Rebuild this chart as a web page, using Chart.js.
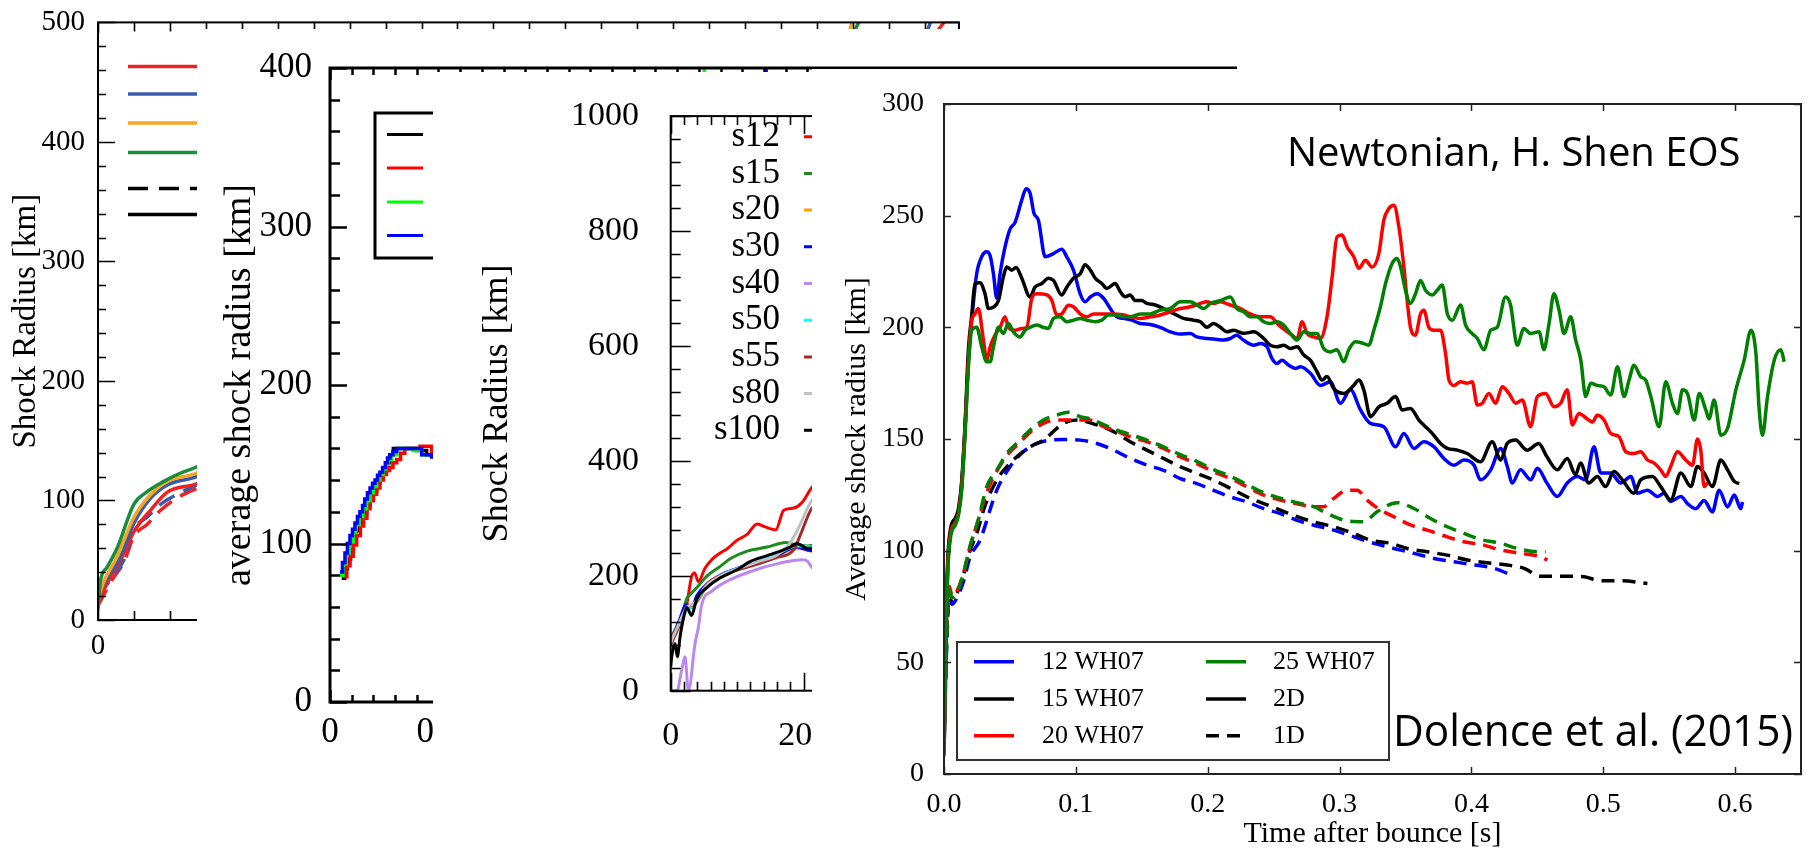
<!DOCTYPE html>
<html lang="en">
<head>
<meta charset="UTF-8" />
<title>Average shock radius - collage</title>
<script src="https://cdn.jsdelivr.net/npm/chart.js"></script>
<style>
  html, body { margin: 0; padding: 0; background: #fff; }
  #stage { position: relative; width: 1812px; height: 849px; overflow: hidden; background: #fff; }
  #stage canvas { position: absolute; }
</style>
</head>
<body>
<div id="stage">
  <canvas id="c1" width="961" height="660" style="left:0px;top:0px;z-index:1"></canvas>
  <canvas id="c2" width="1040" height="820" style="left:197px;top:29px;z-index:2"></canvas>
  <canvas id="c3" width="612" height="777" style="left:433px;top:72px;z-index:3"></canvas>
  <canvas id="c4" width="1000" height="780" style="left:812px;top:69px;z-index:4"></canvas>
</div>

<script>
// ---------- main panel: Dolence et al. (2015), time [s] vs radius [km] ----------
const r12_2d = [[0,10],[0.001,40],[0.002,75],[0.003,95],[0.005,108],[0.009,113],[0.011,117],[0.0134,129],[0.016,155],[0.0185,185],[0.021,203],[0.0248,224],[0.0286,231.6],[0.0324,233.8],[0.035,232],[0.0375,224],[0.040,213],[0.0425,224],[0.0463,236],[0.0501,244],[0.0539,247],[0.059,257],[0.0623,262],[0.0653,260],[0.0683,251],[0.0716,248],[0.0767,231.6],[0.083,233],[0.0893,235],[0.0931,231.6],[0.0982,225.6],[0.1033,215],[0.107,211.4],[0.111,213.6],[0.116,215],[0.121,213],[0.1261,208.4],[0.131,204.7],[0.136,204],[0.1425,203.2],[0.1488,201.7],[0.1564,201.3],[0.164,200],[0.1716,198],[0.179,197],[0.1868,197.2],[0.1918,195.7],[0.1995,195],[0.207,194.6],[0.212,194.3],[0.2172,195],[0.222,196.5],[0.227,194.3],[0.235,192],[0.24,192.8],[0.245,191.3],[0.2488,186],[0.2526,183.8],[0.2564,185.3],[0.2615,183],[0.2666,181.6],[0.2703,182.3],[0.2779,179.4],[0.2855,174],[0.293,175.6],[0.3007,166],[0.3083,172],[0.3159,163],[0.3235,157],[0.3336,155.5],[0.3425,146.5],[0.3488,152.5],[0.3564,145.8],[0.364,148.8],[0.3717,146.5],[0.3792,141.3],[0.3868,138.3],[0.3944,140.6],[0.402,138.3],[0.4069,131.7],[0.4147,136.2],[0.4222,145.8],[0.4272,137.8],[0.431,130.3],[0.4372,136.2],[0.445,131.7],[0.45,136.9],[0.4573,130.3],[0.4652,124.3],[0.4727,130.3],[0.4803,133.2],[0.4867,131.7],[0.493,146.5],[0.4981,134.8],[0.5057,134.8],[0.5133,130.3],[0.521,133.2],[0.5259,125.7],[0.5336,127.1],[0.5411,124.3],[0.5462,125.7],[0.5512,122],[0.5589,124.3],[0.5639,121.1],[0.5702,118.8],[0.5765,122.5],[0.5828,117.4],[0.5879,127.1],[0.5943,119.6],[0.5994,124.9],[0.6044,118.8],[0.6056,121.8]];

const r15_2d = [[0,12],[0.001,45],[0.002,80],[0.003,98],[0.005,110],[0.009,115],[0.011,119],[0.0134,131],[0.016,157],[0.0185,190],[0.021,205],[0.0235,219.6],[0.0273,220],[0.0311,215],[0.0337,208.4],[0.0375,209],[0.0413,212],[0.045,222.6],[0.0476,227],[0.0514,225.6],[0.0547,226.8],[0.059,222],[0.0653,213.6],[0.069,218],[0.0742,219.6],[0.0792,222],[0.083,221],[0.0893,214.5],[0.0931,218],[0.0982,222],[0.1033,224],[0.107,228],[0.111,225.6],[0.1147,222],[0.1197,219.6],[0.1235,217.4],[0.1298,219.6],[0.1337,216],[0.1374,213.7],[0.1412,214.5],[0.145,212],[0.15,212],[0.1539,210.7],[0.1602,210],[0.1665,208.4],[0.1741,206.2],[0.1817,204],[0.1893,203.2],[0.1944,202.5],[0.1994,200],[0.2045,201.7],[0.2096,200],[0.2146,198],[0.2197,198.7],[0.2273,197.3],[0.2349,198],[0.2425,195],[0.2475,192],[0.2526,191.3],[0.2577,192],[0.2627,190.5],[0.2678,191.3],[0.2729,187.6],[0.2779,185.3],[0.283,180],[0.2868,176.4],[0.2905,178],[0.2956,172.6],[0.3032,170.4],[0.3108,174],[0.3146,176.4],[0.3184,172],[0.3235,160],[0.3298,164.4],[0.3361,166],[0.3425,169],[0.3475,163],[0.3538,163.7],[0.3602,158.5],[0.3652,155.5],[0.3703,152.5],[0.3766,148],[0.3817,145.8],[0.3893,145],[0.3969,143.5],[0.4069,139.8],[0.4158,148.8],[0.4222,140.6],[0.4272,148],[0.4335,149.5],[0.4422,145],[0.4511,148],[0.4573,142],[0.4652,136.2],[0.4727,141.3],[0.479,134],[0.4828,139.3],[0.489,130.3],[0.4955,133.2],[0.5018,128.7],[0.5081,135.4],[0.5145,131.7],[0.5233,125.7],[0.5284,131.7],[0.5373,133.2],[0.5436,128.7],[0.5512,122.7],[0.5589,134.8],[0.5664,128.7],[0.5715,137.7],[0.5765,134.8],[0.5828,128.7],[0.5892,140.6],[0.5943,136.2],[0.5994,131],[0.6031,130]];

const r20_2d = [[0,10],[0.001,40],[0.002,75],[0.003,95],[0.005,108],[0.009,113],[0.011,117],[0.0134,129],[0.016,155],[0.0185,185],[0.021,203],[0.0235,206],[0.026,208.4],[0.0299,194.3],[0.0324,185.3],[0.035,191.3],[0.0387,196.5],[0.0425,200],[0.0463,204.7],[0.0488,200],[0.0539,198.7],[0.059,199.5],[0.0628,200],[0.0666,213],[0.0704,215],[0.078,214.5],[0.0818,212],[0.0855,205.5],[0.0893,206],[0.0944,209.9],[0.0982,209.2],[0.1033,206],[0.1083,204.7],[0.1134,206],[0.121,206],[0.1286,206],[0.1362,205.5],[0.1412,204.7],[0.1488,204],[0.1564,204.7],[0.164,205.5],[0.1716,207],[0.1792,208.4],[0.1868,209.2],[0.1944,210.7],[0.1994,211.4],[0.2045,210.7],[0.2096,211.4],[0.2172,210],[0.2248,208.4],[0.2324,206],[0.24,204.7],[0.2475,204.7],[0.2539,201],[0.2589,198.7],[0.264,196.5],[0.2678,195],[0.2716,202.5],[0.2754,197.2],[0.2804,195.7],[0.2855,195],[0.2905,204.7],[0.2944,222.6],[0.2981,240.5],[0.302,241.3],[0.3058,236],[0.3108,231.6],[0.3146,226.4],[0.3197,230],[0.3247,227],[0.3298,233],[0.3336,248],[0.3374,253.2],[0.3412,254.7],[0.345,245],[0.3488,227],[0.3513,212],[0.3538,200],[0.3576,196.5],[0.3614,206],[0.364,207.7],[0.3677,200],[0.3717,198.7],[0.3766,198.7],[0.3804,188.3],[0.383,176.4],[0.3868,174],[0.3918,175.6],[0.3969,175],[0.4006,175.6],[0.4045,165.2],[0.4083,166],[0.4132,170.4],[0.4184,166],[0.4234,173.4],[0.4285,170.4],[0.4336,166],[0.4386,167.5],[0.4449,155.5],[0.45,169],[0.4563,170.4],[0.4627,164.4],[0.4677,166],[0.4727,172],[0.4766,156.3],[0.4816,161.4],[0.4879,159],[0.4918,157.6],[0.4955,160.6],[0.5006,158.5],[0.5057,152.5],[0.512,151],[0.5171,144.3],[0.5233,143.5],[0.5284,144.3],[0.5336,140.6],[0.5386,139.2],[0.5436,136.2],[0.5474,133.2],[0.5512,137.7],[0.5563,144.3],[0.5626,140.6],[0.5677,138.3],[0.5715,150],[0.574,145],[0.5765,128.7],[0.5791,130.3]];

const r25_2d = [[0,8],[0.001,38],[0.002,72],[0.003,92],[0.005,106],[0.009,112],[0.011,116],[0.0134,127],[0.016,152],[0.0185,182],[0.021,198.7],[0.0248,200],[0.0286,191.3],[0.0324,184.6],[0.035,184.6],[0.0375,191.3],[0.0413,200],[0.045,197.2],[0.0488,201.7],[0.0526,198],[0.0577,195.7],[0.0615,198.7],[0.0653,200],[0.0704,201],[0.0754,200],[0.0792,199.5],[0.083,204],[0.088,204.7],[0.0931,202.5],[0.0982,203.2],[0.1033,204],[0.1083,203.2],[0.1147,202.5],[0.1197,203.2],[0.1248,205.5],[0.131,205.5],[0.1362,204.7],[0.1412,204.7],[0.1488,206],[0.1564,206],[0.164,207.7],[0.1716,208.4],[0.1792,211.4],[0.1868,211.4],[0.1918,210],[0.1969,208.4],[0.202,210.7],[0.2096,212],[0.2172,213.6],[0.2222,208.4],[0.2273,207],[0.2324,204.7],[0.2374,204.7],[0.2425,202.5],[0.2475,201.7],[0.2526,202.5],[0.2577,201],[0.2627,197.2],[0.2678,194.3],[0.2729,198],[0.2779,197.2],[0.283,197.2],[0.288,190.5],[0.293,189],[0.298,190],[0.3032,184.6],[0.307,190],[0.312,193.5],[0.3171,193],[0.3222,192],[0.326,198.7],[0.331,209.2],[0.3349,219.6],[0.3399,228.6],[0.3437,230.8],[0.3463,227],[0.35,216.6],[0.3538,210.7],[0.3576,215],[0.3614,221],[0.3652,216.6],[0.3703,214.5],[0.3741,216.6],[0.3779,218.9],[0.3817,206.2],[0.3855,203.2],[0.3918,210],[0.3956,201],[0.4006,197.2],[0.4045,195],[0.4095,190],[0.4146,198.7],[0.4196,200],[0.4259,213.6],[0.4297,210],[0.4348,192],[0.4398,199.5],[0.4449,197.2],[0.4513,198],[0.455,190],[0.4589,201.7],[0.4626,215],[0.4665,207.7],[0.4703,197.2],[0.4753,204.7],[0.4791,194.3],[0.483,185.3],[0.4867,169],[0.4905,175],[0.4955,174],[0.5006,173.4],[0.5057,169.7],[0.5108,182.3],[0.5158,169],[0.5196,176.4],[0.5233,183],[0.5284,177.9],[0.5322,176.4],[0.5361,169],[0.5424,155.5],[0.5474,175.6],[0.5525,166],[0.5563,161.4],[0.5601,172],[0.5639,170.4],[0.569,158.5],[0.5728,170.4],[0.5778,163],[0.5803,159],[0.5841,167.5],[0.5892,151.7],[0.5943,154.8],[0.6006,172],[0.6069,185.3],[0.612,198.7],[0.6158,188.3],[0.6183,163],[0.6208,151.7],[0.6246,169],[0.6297,185.3],[0.6347,190],[0.6373,184.6]];

const r12_1d = [[0,14],[0.002,56],[0.004,79],[0.006,76],[0.009,78],[0.0147,86],[0.0197,97],[0.0273,104.7],[0.04,127],[0.0501,137.6],[0.0602,144.3],[0.0704,148],[0.0805,149.5],[0.0906,149.8],[0.1033,149.5],[0.116,148],[0.1286,145],[0.1412,141.3],[0.1539,138.3],[0.1665,136],[0.1792,132.3],[0.1918,130],[0.2045,127],[0.2172,124.1],[0.2298,121.8],[0.2425,118.8],[0.2551,116.6],[0.2678,113.6],[0.2804,111.4],[0.2956,109.2],[0.3108,106.2],[0.326,103.3],[0.3412,101],[0.3564,98.8],[0.3716,96.5],[0.3868,95],[0.402,93.6],[0.4171,92.1],[0.4323,88.6]];

const r15_1d = [[0,15],[0.002,60],[0.004,82],[0.006,78],[0.009,80],[0.0147,89],[0.0197,100],[0.0248,107.7],[0.031,120],[0.04,131.6],[0.0526,140.6],[0.0653,146.5],[0.0754,149.5],[0.0906,157],[0.1007,158.5],[0.116,156.3],[0.1286,153.3],[0.1412,148.8],[0.1539,145],[0.1665,141.3],[0.1792,137.6],[0.1918,134.6],[0.2045,131.6],[0.2172,127.9],[0.2298,124.1],[0.2425,121.1],[0.2551,118.2],[0.2678,115.2],[0.2804,112.9],[0.2956,110.7],[0.3108,107.7],[0.3235,104.7],[0.3387,103.3],[0.3513,101],[0.3665,99.5],[0.3817,98],[0.3969,95.8],[0.412,94.6],[0.4272,93.6],[0.4399,92.1],[0.4525,88.6],[0.4703,88.6],[0.4855,88.3],[0.4981,86.5],[0.5133,86.5],[0.5335,85.3]];

const r20_1d = [[0,16],[0.002,62],[0.004,84],[0.006,80],[0.009,81],[0.0147,89.8],[0.0197,101.8],[0.026,113.7],[0.0324,126],[0.04,135.5],[0.0476,142.5],[0.0577,148.5],[0.0653,153],[0.0754,157],[0.0855,158.5],[0.0982,158.5],[0.1109,158.5],[0.121,155.5],[0.1286,154],[0.1412,151],[0.1539,148.8],[0.1665,145.8],[0.1792,142],[0.1918,139],[0.2045,135.3],[0.2172,132.3],[0.2298,128.6],[0.2425,124.9],[0.2551,122.7],[0.2678,121],[0.2804,119.7],[0.288,119.7],[0.2956,123.4],[0.3057,127.1],[0.3133,127.1],[0.3209,122.6],[0.3311,118.2],[0.3412,115.2],[0.3538,111.5],[0.3665,109.2],[0.3817,106.2],[0.3943,104],[0.4095,102.5],[0.4222,100.3],[0.4374,98.8],[0.4525,97.3],[0.4576,95.8]];

const r25_1d = [[0,15],[0.002,60],[0.004,82],[0.006,79],[0.009,80],[0.0147,89.8],[0.0197,101.8],[0.026,113.7],[0.0324,128.6],[0.04,136],[0.0476,143.5],[0.0577,149.5],[0.0653,154],[0.0754,158.5],[0.0855,160.7],[0.0944,162],[0.1033,160],[0.1109,159],[0.121,156.5],[0.1286,154.5],[0.1412,152],[0.1539,149.5],[0.1665,146.5],[0.1792,143],[0.1918,140],[0.2045,136.3],[0.2172,133.3],[0.2298,129.6],[0.2425,125.9],[0.2551,123.5],[0.2678,121.5],[0.2804,119.7],[0.2905,116.7],[0.3032,113.7],[0.3184,113],[0.3285,117.4],[0.3437,121.5],[0.3564,118.9],[0.369,114.4],[0.3817,110.7],[0.3943,107.7],[0.407,105],[0.4222,103.3],[0.4348,101],[0.45,99.5],[0.4563,99.5]];

const mainLabels = ['12 WH07', '15 WH07', '20 WH07', '25 WH07', '2D', '1D'];
const mainColors = ['#0000ff', '#000000', '#ff0000', '#008000', '#000000', '#000000'];

// ---------- back panel 1: Shock Radius [km], time [s] ----------
const p1_red    = [[0,15],[0.0069,36],[0.0125,50],[0.02,74],[0.0293,92],[0.0386,107],[0.0548,114],[0.25,270],[0.46,470],[0.4659,490],[0.4706,500],[0.473,505]];
const p1_blue   = [[0,22],[0.0069,39],[0.0125,53],[0.02,81],[0.0293,102],[0.0386,113],[0.0548,120],[0.25,280],[0.455,470],[0.4607,490],[0.4631,500],[0.465,507]];
const p1_orange = [[0,18],[0.0032,32],[0.0106,53],[0.02,86],[0.0293,105],[0.0386,116],[0.0548,123],[0.2,250],[0.41,470],[0.4174,490],[0.4195,500],[0.421,506]];
const p1_green  = [[0,9],[0.0013,32],[0.005,44],[0.0106,60],[0.02,97],[0.027,107],[0.0366,116],[0.046,123],[0.0548,128],[0.2,260],[0.41,470],[0.4199,490],[0.4232,500],[0.426,508]];
const p1_redD   = [[0,12],[0.008,34],[0.0143,48],[0.02,70],[0.0273,80],[0.035,92],[0.045,103],[0.0548,110]];
const p1_blueD  = [[0,20],[0.008,36],[0.0143,50],[0.02,76],[0.0273,86],[0.035,97],[0.045,106],[0.0548,113]];
const p1Colors  = ['#ee2222', '#3b5bab', '#f5a623', '#1a8c3c', '#000000', '#000000'];

// ---------- back panel 2: average shock radius [km] (staircase output) ----------
const p2_black = [[0.0108,78],[0.0135,84],[0.016,90],[0.019,96],[0.0215,102],[0.024,108],[0.027,113],[0.0305,119],[0.0338,124],[0.037,129],[0.04,133],[0.043,138],[0.046,142],[0.049,147],[0.052,151],[0.055,156],[0.0584,160],[0.08,158.6],[0.0891,156],[0.0937,156],[0.2,200],[0.4,300],[0.6,350]];
const p2_red   = [[0.0123,79],[0.0155,86],[0.0185,92],[0.0215,99],[0.0246,105],[0.028,111],[0.031,116],[0.034,122],[0.0369,127],[0.04,131],[0.043,135],[0.046,140],[0.0492,143.5],[0.052,146],[0.055,148],[0.058,151],[0.0615,153],[0.065,157],[0.069,160],[0.083,161.3],[0.0906,161.3],[0.0937,156],[0.2,210],[0.4,320]];
const p2_green = [[0.0092,80],[0.012,87],[0.015,94],[0.018,101],[0.0215,107],[0.024,112],[0.027,117],[0.0305,122],[0.0338,127],[0.037,132],[0.04,136],[0.043,140],[0.046,143.5],[0.049,147],[0.0515,150],[0.054,153],[0.0568,156],[0.0615,160],[0.0768,158.6],[0.0845,156],[0.0937,155],[0.2,260],[0.33,392],[0.345,410]];
const p2_blue  = [[0.0092,82],[0.0115,88],[0.0138,94],[0.016,100],[0.0184,105],[0.0207,109],[0.023,113],[0.0253,117],[0.0276,120],[0.03,124],[0.032,128],[0.0345,132],[0.0369,135],[0.0392,138],[0.0415,140],[0.0438,143],[0.046,145],[0.0485,148],[0.051,151],[0.053,154],[0.0553,156],[0.058,158],[0.0615,160],[0.08,160],[0.0845,156],[0.0937,154.5],[0.2,240],[0.392,392],[0.402,410]];
const p2Colors = ['#000000', '#ff0000', '#00ff00', '#0000ff'];

// ---------- back panel 3: Shock Radius [km], time [ms] ----------
const p3Labels = ['s12', 's15', 's20', 's30', 's40', 's50', 's55', 's80', 's100'];
const p3Colors = ['#ff0000', '#1f8b1f', '#ffa500', '#0000ff', '#bb88ee', '#00ffff', '#a52a2a', '#c0c0c0', '#000000'];
const p3_s12  = [[0,93],[6.5,105],[16.5,128],[24,150],[31.5,199],[36,205],[41.6,190],[51.6,213],[61.6,228],[75,240],[85,247],[100,262],[115,272],[130,290],[140,286],[158,280],[170,314],[185,318],[198,328],[210,350],[218,362]];
const p3_s15  = [[0,85],[10,115],[18,135],[24,160],[29,167],[39,179],[54,199],[74,216],[90,230],[115,243],[145,250],[173,258],[185,255],[205,252],[218,254]];
const p3_s20  = [[0,82],[10,110],[24,148],[35,150],[54,180],[74,198],[100,212],[130,224],[160,235],[190,248],[210,243],[218,240]];
const p3_s30  = [[0,84],[10,112],[24,150],[32,145],[39,165],[54,185],[74,201],[100,213],[130,225],[160,236],[190,250],[210,244],[218,245]];
const p3_s40  = [[0,0],[9.5,0],[16.5,36],[21.5,59],[26.6,0],[36.6,82],[41.6,110],[46.6,150],[61.6,173],[84,190],[119,207],[164,222],[199,228],[206,225],[212,215],[218,212]];
const p3_s50  = [[0,85],[10,108],[24,140],[35,148],[54,182],[74,200],[100,212],[130,226],[160,238],[190,252],[210,250],[218,248]];
const p3_s55  = [[0,80],[10,105],[24,145],[35,150],[54,185],[74,200],[100,210],[130,220],[160,232],[185,245],[195,271],[210,313],[218,325]];
const p3_s80  = [[0,84],[10,110],[24,145],[35,152],[54,183],[74,199],[100,212],[130,224],[160,236],[178,255],[190,278],[210,327],[218,340]];
const p3_s100 = [[0,41],[1.5,59],[6.5,82],[10,59],[14,93],[19,125],[24,145],[31.5,131],[39,159],[54,179],[74,196],[99,210],[120,225],[145,235],[165,243],[180,250],[190,256],[195,254],[205,248],[218,248]];

const serif = "'Liberation Serif', 'Times New Roman', serif";
Chart.defaults.font.family = serif;
Chart.defaults.color = '#000';
Chart.defaults.animation = false;
Chart.defaults.events = [];

function series(pairs, color, width, dash, more) {
  return Object.assign({
    data: pairs.map(p => ({ x: p[0], y: p[1] })),
    borderColor: color,
    borderWidth: width,
    borderDash: dash || [],
    pointRadius: 0,
    fill: false,
    cubicInterpolationMode: 'monotone'
  }, more || {});
}

function axis(o) {
  return {
    type: 'linear', min: o.min, max: o.max,
    grid: { display: false },
    border: { display: false },
    ticks: {
      stepSize: o.step, padding: o.pad, autoSkip: false, maxRotation: 0, includeBounds: false,
      color: '#000', font: { size: o.size, lineHeight: 1.2 },
      callback: o.fmt || (v => String(v))
    },
    title: o.title
      ? { display: true, text: o.title, color: '#000', font: { size: o.tsize, lineHeight: o.tlh || 1.2 }, padding: o.tpad }
      : { display: false },
    // one labelled tick per step, from min up to max
    afterBuildTicks: s => {
      const list = [];
      for (let i = 0; ; i++) {
        const v = +(o.min + i * o.step).toFixed(6);
        if (v > o.max + 1e-9) break;
        list.push({ value: v });
      }
      s.ticks = list;
    },
    afterFit: s => {
      if (o.width != null) s.width = o.width;
      if (o.height != null) s.height = o.height;
    }
  };
}

function isMult(v, m) {
  return Math.abs(v / m - Math.round(v / m)) < 1e-6;
}

// white panel, box frame and inward ticks on all four sides
function framePlugin(o) {
  return {
    id: 'frame',
    beforeDraw(chart) {
      const c = chart.ctx;
      c.save();
      c.fillStyle = '#fff';
      c.fillRect(0, 0, chart.width, chart.height);
      c.restore();
    },
    afterDatasetsDraw(chart) {
      const c = chart.ctx, a = chart.chartArea;
      const xs = chart.scales.x, ys = chart.scales.y;
      c.save();
      c.strokeStyle = o.color || '#000';
      c.lineWidth = o.tickWidth;
      c.beginPath();
      for (let i = 0; ; i++) {
        const v = xs.min + i * o.xMinor;
        if (v > xs.max + 1e-9) break;
        const px = Math.round(xs.getPixelForValue(v)) + 0.5;
        const L = isMult(v, o.xMajor) ? o.xLen[0] : o.xLen[1];
        c.moveTo(px, a.bottom); c.lineTo(px, a.bottom - L);
        c.moveTo(px, a.top); c.lineTo(px, a.top + L);
      }
      for (let i = 0; ; i++) {
        const v = ys.min + i * o.yMinor;
        if (v > ys.max + 1e-9) break;
        const py = Math.round(ys.getPixelForValue(v)) + 0.5;
        const L = isMult(v, o.yMajor) ? o.yLen[0] : o.yLen[1];
        c.moveTo(a.left, py); c.lineTo(a.left + L, py);
        c.moveTo(a.right, py); c.lineTo(a.right - L, py);
      }
      c.stroke();
      c.lineWidth = o.width;
      c.strokeRect(a.left, a.top, a.right - a.left, a.bottom - a.top);
      c.restore();
      if (o.extra) o.extra(chart);
    }
  };
}

const baseOpts = {
  responsive: false,
  animation: false,
  plugins: { legend: { display: false }, tooltip: { enabled: false } }
};

// ---------- panel 1 ----------
new Chart(document.getElementById('c1'), {
  type: 'line',
  data: {
    datasets: [
      series(p1_green, p1Colors[3], 3.5),
      series(p1_orange, p1Colors[2], 3.5),
      series(p1_blue, p1Colors[1], 3.5),
      series(p1_red, p1Colors[0], 3.5),
      series(p1_blueD, p1Colors[1], 3.5, [18, 10]),
      series(p1_redD, p1Colors[0], 3.5, [18, 10])
    ]
  },
  options: Object.assign({}, baseOpts, {
    layout: { padding: { left: 0, top: 17.5, right: 2, bottom: 0 } },
    scales: {
      x: axis({ min: 0, max: 0.479, step: 0.1, pad: 1, size: 29, height: 40, fmt: v => v === 0 ? '0' : v.toFixed(1) }),
      y: axis({ min: 0, max: 500, step: 100, pad: 5, size: 29, width: 98,
        title: 'Shock Radius [km]', tsize: 33, tpad: { top: 7, bottom: 0 } })
    }
  }),
  plugins: [framePlugin({
    width: 2, tickWidth: 1.6,
    xMinor: 0.02, xMajor: 0.1, xLen: [11, 9],
    yMinor: 20, yMajor: 100, yLen: [17, 8],
    extra(chart) {
      const c = chart.ctx;
      const rows = [66.5, 94, 123, 152.4, 188.6, 214.6];
      c.save();
      c.lineWidth = 3.5;
      rows.forEach((y, i) => {
        c.strokeStyle = p1Colors[i];
        c.setLineDash(i === 4 ? [20, 11] : []);
        c.beginPath(); c.moveTo(128, y); c.lineTo(240, y); c.stroke();
      });
      c.restore();
    }
  })]
});

// ---------- panel 2 ----------
new Chart(document.getElementById('c2'), {
  type: 'line',
  data: {
    datasets: [
      series(p2_blue, p2Colors[3], 3.5, [], { stepped: true }),
      series(p2_green, p2Colors[2], 3.5, [], { stepped: true }),
      series(p2_red, p2Colors[1], 3.5, [], { stepped: true }),
      series(p2_black, p2Colors[0], 3.5, [], { stepped: true })
    ]
  },
  options: Object.assign({}, baseOpts, {
    layout: { padding: { left: 0, top: 39, right: 0, bottom: 0 } },
    scales: {
      x: axis({ min: 0, max: 0.836, step: 0.1, pad: 2, size: 35, height: 147, fmt: v => v === 0 ? '0' : v.toFixed(1) }),
      y: axis({ min: 0, max: 400, step: 100, pad: 10, size: 35, width: 133,
        title: 'average shock radius [km]', tsize: 38, tpad: { top: 20, bottom: 0 } })
    }
  }),
  plugins: [framePlugin({
    width: 3, tickWidth: 2.5,
    xMinor: 0.02, xMajor: 0.1, xLen: [12, 7],
    yMinor: 20, yMajor: 100, yLen: [17, 10],
    extra(chart) {
      const c = chart.ctx;
      const rows = [105.5, 139, 173, 206.6];
      c.save();
      c.fillStyle = '#fff';
      c.fillRect(178, 84, 200, 145);
      c.strokeStyle = '#000'; c.lineWidth = 3;
      c.strokeRect(178, 84, 200, 145);
      c.lineWidth = 3;
      rows.forEach((y, i) => {
        c.strokeStyle = p2Colors[i];
        c.beginPath(); c.moveTo(190, y); c.lineTo(226, y); c.stroke();
      });
      c.restore();
    }
  })]
});

// ---------- panel 3 ----------
const p3Series = [p3_s12, p3_s15, p3_s20, p3_s30, p3_s40, p3_s50, p3_s55, p3_s80, p3_s100];
new Chart(document.getElementById('c3'), {
  type: 'line',
  data: {
    datasets: p3Series.map((s, i) => series(s, p3Colors[i], 3)).reverse()
  },
  options: Object.assign({}, baseOpts, {
    layout: { padding: { left: 0, top: 35.3, right: 2, bottom: 0 } },
    scales: {
      x: axis({ min: 0, max: 560, step: 200, pad: 17, size: 34, height: 158.3 }),
      y: axis({ min: 0, max: 1000, step: 200, pad: 23.7, size: 34, width: 237.7,
        title: 'Shock Radius [km]', tsize: 36, tpad: { top: 43, bottom: 0 } })
    }
  }),
  plugins: [framePlugin({
    width: 2, tickWidth: 1.6,
    xMinor: 20, xMajor: 200, xLen: [18, 9],
    yMinor: 40, yMajor: 200, yLen: [20, 10],
    extra(chart) {
      const c = chart.ctx;
      c.save();
      c.font = '35px ' + serif;
      c.textAlign = 'right';
      c.textBaseline = 'middle';
      c.fillStyle = '#000';
      c.lineWidth = 3;
      p3Labels.forEach((t, i) => {
        const y = 64.7 + i * 36.7;
        c.fillText(t, 347, y);
        c.strokeStyle = p3Colors[i];
        c.beginPath(); c.moveTo(371, y); c.lineTo(420, y); c.stroke();
      });
      c.restore();
    }
  })]
});

// ---------- main panel ----------
new Chart(document.getElementById('c4'), {
  type: 'line',
  data: {
    datasets: [
      series(r25_2d, mainColors[3], 3.5),
      series(r20_2d, mainColors[2], 3.5),
      series(r15_2d, mainColors[1], 3.5),
      series(r12_2d, mainColors[0], 3.5),
      series(r25_1d, mainColors[3], 3.5, [13, 8]),
      series(r20_1d, mainColors[2], 3.5, [13, 8]),
      series(r15_1d, mainColors[1], 3.5, [13, 8]),
      series(r12_1d, mainColors[0], 3.5, [13, 8])
    ]
  },
  options: Object.assign({}, baseOpts, {
    layout: { padding: { left: 0, top: 35, right: 11, bottom: 0 } },
    scales: {
      x: axis({ min: 0, max: 0.65, step: 0.1, pad: 6, size: 28, height: 75, fmt: v => v.toFixed(1),
        title: 'Time after bounce [s]', tsize: 30, tlh: 1, tpad: { top: 0, bottom: 0 } }),
      y: axis({ min: 0, max: 300, step: 50, pad: 12, size: 28, width: 132,
        title: 'Average shock radius [km]', tsize: 30, tpad: { top: 27, bottom: 0 } })
    }
  }),
  plugins: [framePlugin({
    color: '#222', width: 2, tickWidth: 1.5,
    xMinor: 0.1, xMajor: 0.1, xLen: [7, 7],
    yMinor: 50, yMajor: 50, yLen: [7, 7],
    extra(chart) {
      const c = chart.ctx;
      c.save();
      c.fillStyle = '#000';
      c.textBaseline = 'alphabetic';
      c.textAlign = 'left';
      c.font = "40px 'Open Sans', 'Noto Sans', sans-serif";
      c.fillText('Newtonian, H. Shen EOS', 475, 97, 472);
      c.font = "43px 'Open Sans', 'Noto Sans', sans-serif";
      c.fillText('Dolence et al. (2015)', 581, 677, 400);

      // legend
      c.fillStyle = '#fff';
      c.fillRect(145, 573, 432, 118);
      c.strokeStyle = '#333'; c.lineWidth = 2;
      c.strokeRect(145, 573, 432, 118);
      const rows = [592.7, 630, 666.7];
      c.font = '26px ' + serif;
      c.textBaseline = 'middle';
      c.lineWidth = 3.5;
      mainLabels.forEach((t, i) => {
        const col = i < 3 ? 0 : 1;
        const y = rows[i % 3];
        const x0 = col === 0 ? 162 : 394;
        const tx = col === 0 ? 230 : 461;
        c.strokeStyle = mainColors[i];
        c.setLineDash(t === '1D' ? [13, 8] : []);
        c.beginPath(); c.moveTo(x0, y); c.lineTo(x0 + 40, y); c.stroke();
        c.setLineDash([]);
        c.fillStyle = '#000';
        c.fillText(t, tx, y);
      });
      c.restore();
    }
  })]
});
</script>
</body>
</html>
